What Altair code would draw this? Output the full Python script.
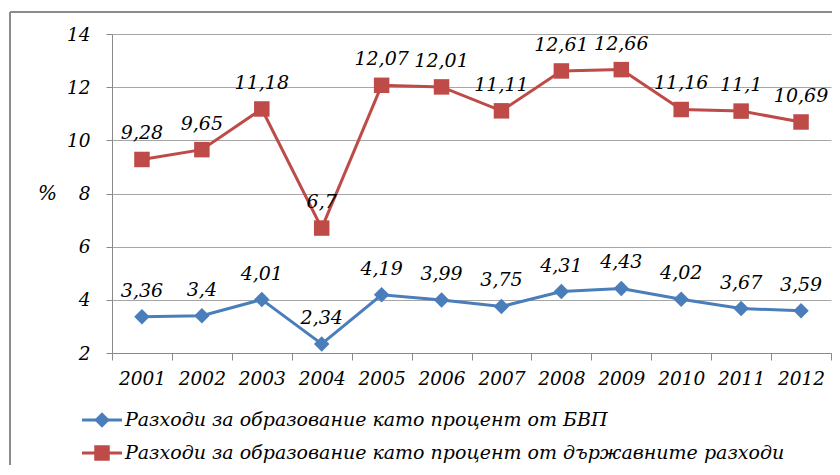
import altair as alt
import pandas as pd

years = [str(y) for y in range(2001, 2013)]
gdp_share = [3.36, 3.4, 4.01, 2.34, 4.19, 3.99, 3.75, 4.31, 4.43, 4.02, 3.67, 3.59]
gov_share = [9.28, 9.65, 11.18, 6.7, 12.07, 12.01, 11.11, 12.61, 12.66, 11.16, 11.1, 10.69]
series_names = [
    "Разходи за образование като процент от БВП",
    "Разходи за образование като процент от държавните разходи",
]
colors = ["#4A7EBB", "#BE4B48"]
shapes = ["diamond", "square"]
y_ticks = [2, 4, 6, 8, 10, 12, 14]

rows = []
for name, vals in zip(series_names, [gdp_share, gov_share]):
    for yr, v in zip(years, vals):
        rows.append({"year": yr, "value": v, "series": name,
                     "label": str(v).replace(".", ",")})
df = pd.DataFrame(rows)

FONT = "DejaVu Serif"
AX = "#8a8a8a"

x_enc = alt.X(
    "year:O",
    bandPosition=0.5,
    scale=alt.Scale(type="band", paddingInner=0, paddingOuter=0),
    axis=alt.Axis(title=None, labelAngle=0, tickBand="extent", grid=False,
                  tickSize=7, labelPadding=9, labelFontSize=18.5,
                  labelFont=FONT, labelFontStyle="italic", labelColor="black",
                  domainColor=AX, tickColor=AX),
)
y_enc = alt.Y(
    "value:Q",
    scale=alt.Scale(domain=[2, 14], nice=False, zero=False),
    axis=alt.Axis(values=y_ticks, title="%", titleAngle=0, titleX=-65, titleY=159,
                  titleAlign="center", titleBaseline="middle", titleFont=FONT,
                  titleFontStyle="italic", titleFontWeight="normal", titleFontSize=20,
                  titleColor="black",
                  grid=True, gridColor="#a6a6a6", tickSize=6, labelPadding=16,
                  labelFontSize=18.5, labelFont=FONT, labelFontStyle="italic",
                  labelColor="black", domainColor=AX, tickColor=AX),
)
color_enc = alt.Color("series:N", scale=alt.Scale(domain=series_names, range=colors), legend=None)
shape_enc = alt.Shape("series:N", scale=alt.Scale(domain=series_names, range=shapes), legend=None)

base = alt.Chart(df)
line = base.mark_line(strokeWidth=3).encode(x=x_enc, y=y_enc, color=color_enc)
points = base.mark_point(filled=True, opacity=1, size=240).encode(
    x=x_enc, y=y_enc, color=color_enc, shape=shape_enc)
labels = base.mark_text(dy=-26, font=FONT, fontSize=19, fontStyle="italic",
                        color="black", baseline="middle").encode(
    x=x_enc, y=y_enc, text="label:N")

layers = [line, points, labels]

# legend (drawn manually: line + marker + text)
legend_y = [386, 419]
for i in range(2):
    d = alt.Data(values=[{"name": series_names[i]}])
    layers.append(alt.Chart(d).mark_rule(color=colors[i], strokeWidth=3).encode(
        x=alt.value(-30), x2=alt.value(10), y=alt.value(legend_y[i])))
    layers.append(alt.Chart(d).mark_point(shape=shapes[i], filled=True, opacity=1,
                                          size=240, color=colors[i]).encode(
        x=alt.value(-10), y=alt.value(legend_y[i])))
    layers.append(alt.Chart(d).mark_text(align="left", baseline="middle", font=FONT,
                                         fontSize=19, fontStyle="italic",
                                         color="black").encode(
        x=alt.value(13), y=alt.value(legend_y[i]), text="name:N"))

# outer frame (left and top edges)
fd = alt.Data(values=[{"k": 1}])
layers.append(alt.Chart(fd).mark_rule(color="#8c8c8c", strokeWidth=2).encode(
    x=alt.value(-102), y=alt.value(-22), y2=alt.value(445)))
layers.append(alt.Chart(fd).mark_rule(color="#8c8c8c", strokeWidth=2).encode(
    x=alt.value(-102), x2=alt.value(730), y=alt.value(-22)))

chart = alt.layer(*layers).properties(
    width=719, height=319,
    autosize=alt.AutoSizeParams(type="none"),
    padding={"left": 104, "top": 26, "right": 1, "bottom": 112},
).configure_view(stroke=None)

chart.save("out.html", embed_options={"renderer": "svg", "actions": False})
